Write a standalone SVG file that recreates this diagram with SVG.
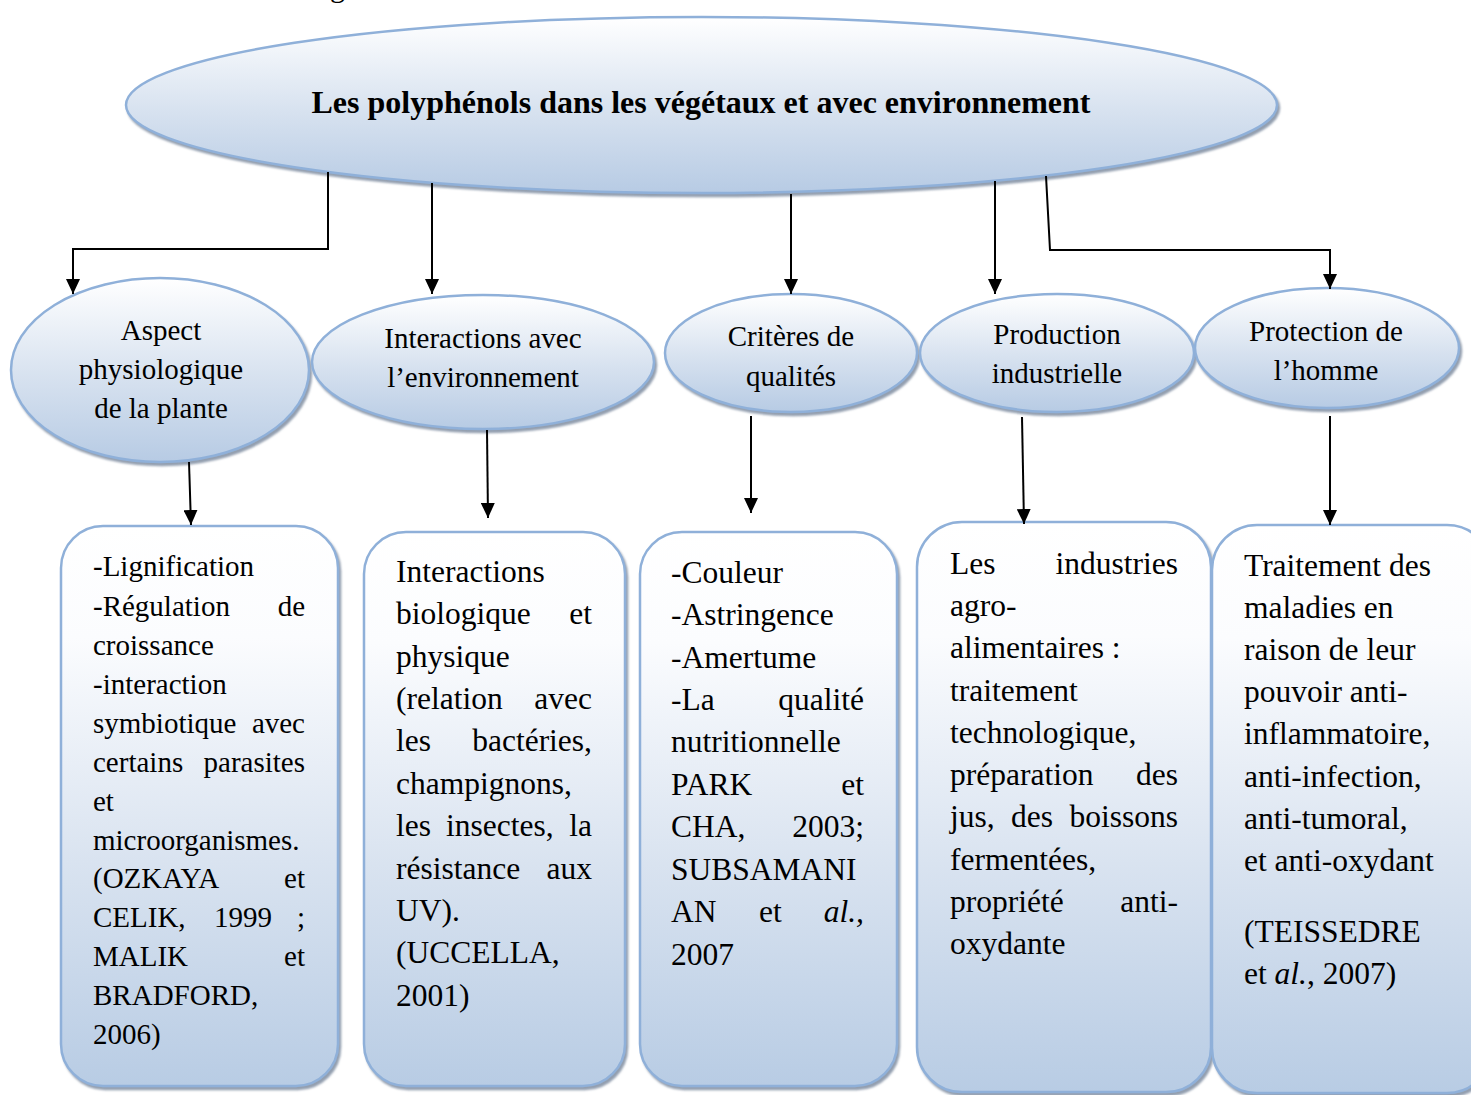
<svg xmlns="http://www.w3.org/2000/svg" width="1471" height="1095" viewBox="0 0 1471 1095">
  <defs>
    <linearGradient id="gEll" x1="0" y1="0" x2="0" y2="1">
      <stop offset="0" stop-color="#ffffff"/>
      <stop offset="0.55" stop-color="#d6e1ef"/>
      <stop offset="1" stop-color="#b7cbe4"/>
    </linearGradient>
    <linearGradient id="gBox" x1="0" y1="0" x2="0" y2="1">
      <stop offset="0" stop-color="#ffffff"/>
      <stop offset="0.2" stop-color="#fbfcfe"/>
      <stop offset="0.6" stop-color="#d9e3f0"/>
      <stop offset="1" stop-color="#b8cce4"/>
    </linearGradient>
    <filter id="shadow" x="-5%" y="-5%" width="112%" height="115%">
      <feDropShadow dx="2" dy="3" stdDeviation="1.3" flood-color="#6e7f94" flood-opacity="0.75"/>
    </filter>
    <marker id="arrow" viewBox="0 0 15 14" refX="15" refY="7" markerWidth="15" markerHeight="14" markerUnits="userSpaceOnUse" orient="auto">
      <path d="M0,0 L15,7 L0,14 z" fill="#000"/>
    </marker>
    <style>
      .shape { fill: url(#gEll); stroke: #8fb0d9; stroke-width: 2.5; filter: url(#shadow); }
      .box { fill: url(#gBox); stroke: #8fb0d9; stroke-width: 2.5; filter: url(#shadow); }
      .conn { fill: none; stroke: #000; stroke-width: 2; marker-end: url(#arrow); }
      text { font-family: "Liberation Serif", "Times New Roman", serif; fill: #000; }
      .title { font-size: 32px; font-weight: bold; text-anchor: middle; }
      .lbl { font-size: 29px; text-anchor: middle; }
      .t1 { font-size: 29px; }
      .t2 { font-size: 31.5px; }
      .r { text-anchor: end; }
      .it { font-style: italic; }
    </style>
  </defs>

  <!-- caption fragment at the top edge -->
  <text x="330" y="-3.5" style="font-size:30px">g</text>

  <!-- root -->
  <g id="root">
    <ellipse class="shape" cx="701.5" cy="105" rx="575.5" ry="88"/>
    <text class="title" x="701" y="113">Les polyphénols dans les végétaux et avec environnement</text>
  </g>

  <!-- second level -->
  <g id="aspect">
    <ellipse class="shape" cx="160" cy="370" rx="149" ry="92"/>
    <text class="lbl" x="161" y="340">Aspect</text>
    <text class="lbl" x="161" y="379">physiologique</text>
    <text class="lbl" x="161" y="418">de la plante</text>
  </g>
  <g id="interactions">
    <ellipse class="shape" cx="483" cy="362" rx="171" ry="67"/>
    <text class="lbl" x="483" y="348">Interactions avec</text>
    <text class="lbl" x="483" y="387">l’environnement</text>
  </g>
  <g id="criteres">
    <ellipse class="shape" cx="791" cy="353" rx="126" ry="59"/>
    <text class="lbl" x="791" y="346">Critères de</text>
    <text class="lbl" x="791" y="386">qualités</text>
  </g>
  <g id="production">
    <ellipse class="shape" cx="1057" cy="353" rx="137" ry="59"/>
    <text class="lbl" x="1057" y="344">Production</text>
    <text class="lbl" x="1057" y="383">industrielle</text>
  </g>
  <g id="protection">
    <ellipse class="shape" cx="1327" cy="348" rx="132" ry="60"/>
    <text class="lbl" x="1326" y="341">Protection de</text>
    <text class="lbl" x="1326" y="380">l’homme</text>
  </g>

  <!-- detail boxes -->
  <g id="box-aspect">
    <rect class="box" x="61" y="526" width="277" height="560" rx="42" ry="42"/>
    <text class="t1" x="93" y="576">-Lignification</text>
    <text class="t1" x="93" y="616">-Régulation</text><text class="t1 r" x="305" y="616">de</text>
    <text class="t1" x="93" y="655">croissance</text>
    <text class="t1" x="93" y="694">-interaction</text>
    <text class="t1" x="93" y="733">symbiotique</text><text class="t1 r" x="305" y="733">avec</text>
    <text class="t1" x="93" y="772">certains</text><text class="t1 r" x="305" y="772">parasites</text>
    <text class="t1" x="93" y="811">et</text>
    <text class="t1" x="93" y="850">microorganismes.</text>
    <text class="t1" x="93" y="888">(OZKAYA</text><text class="t1 r" x="305" y="888">et</text>
    <text class="t1" x="93" y="927">CELIK,</text><text class="t1" x="214" y="927">1999</text><text class="t1 r" x="305" y="927">;</text>
    <text class="t1" x="93" y="966">MALIK</text><text class="t1 r" x="305" y="966">et</text>
    <text class="t1" x="93" y="1005">BRADFORD,</text>
    <text class="t1" x="93" y="1044">2006)</text>
  </g>
  <g id="box-interactions">
    <rect class="box" x="364" y="532" width="261" height="554" rx="42" ry="42"/>
    <text class="t2" x="396" y="582">Interactions</text>
    <text class="t2" x="396" y="624">biologique</text><text class="t2 r" x="592" y="624">et</text>
    <text class="t2" x="396" y="667">physique</text>
    <text class="t2" x="396" y="709">(relation</text><text class="t2 r" x="592" y="709">avec</text>
    <text class="t2" x="396" y="751">les</text><text class="t2 r" x="592" y="751">bactéries,</text>
    <text class="t2" x="396" y="794">champignons,</text>
    <text class="t2" x="396" y="836">les</text><text class="t2" x="446" y="836">insectes,</text><text class="t2 r" x="592" y="836">la</text>
    <text class="t2" x="396" y="879">résistance</text><text class="t2 r" x="592" y="879">aux</text>
    <text class="t2" x="396" y="921">UV).</text>
    <text class="t2" x="396" y="963">(UCCELLA,</text>
    <text class="t2" x="396" y="1006">2001)</text>
  </g>
  <g id="box-criteres">
    <rect class="box" x="640" y="532" width="257" height="554" rx="42" ry="42"/>
    <text class="t2" x="671" y="583">-Couleur</text>
    <text class="t2" x="671" y="625">-Astringence</text>
    <text class="t2" x="671" y="668">-Amertume</text>
    <text class="t2" x="671" y="710">-La</text><text class="t2 r" x="864" y="710">qualité</text>
    <text class="t2" x="671" y="752">nutritionnelle</text>
    <text class="t2" x="671" y="795">PARK</text><text class="t2 r" x="864" y="795">et</text>
    <text class="t2" x="671" y="837">CHA,</text><text class="t2 r" x="864" y="837">2003;</text>
    <text class="t2" x="671" y="880">SUBSAMANI</text>
    <text class="t2" x="671" y="922">AN</text><text class="t2" x="759" y="922">et</text><text class="t2 r it" x="864" y="922">al.,</text>
    <text class="t2" x="671" y="965">2007</text>
  </g>
  <g id="box-production">
    <rect class="box" x="917" y="522" width="294" height="570" rx="45" ry="45"/>
    <text class="t2" x="950" y="574">Les</text><text class="t2 r" x="1178" y="574">industries</text>
    <text class="t2" x="950" y="616">agro-</text>
    <text class="t2" x="950" y="658">alimentaires :</text>
    <text class="t2" x="950" y="701">traitement</text>
    <text class="t2" x="950" y="743">technologique,</text>
    <text class="t2" x="950" y="785">préparation</text><text class="t2 r" x="1178" y="785">des</text>
    <text class="t2" x="950" y="827">jus,</text><text class="t2" x="1011" y="827">des</text><text class="t2 r" x="1178" y="827">boissons</text>
    <text class="t2" x="950" y="870">fermentées,</text>
    <text class="t2" x="950" y="912">propriété</text><text class="t2 r" x="1178" y="912">anti-</text>
    <text class="t2" x="950" y="954">oxydante</text>
  </g>
  <g id="box-protection">
    <rect class="box" x="1212" y="525" width="280" height="568" rx="45" ry="45"/>
    <text class="t2" x="1244" y="576">Traitement des</text>
    <text class="t2" x="1244" y="618">maladies en</text>
    <text class="t2" x="1244" y="660">raison de leur</text>
    <text class="t2" x="1244" y="702">pouvoir anti-</text>
    <text class="t2" x="1244" y="744">inflammatoire,</text>
    <text class="t2" x="1244" y="787">anti-infection,</text>
    <text class="t2" x="1244" y="829">anti-tumoral,</text>
    <text class="t2" x="1244" y="871">et anti-oxydant</text>
    <text class="t2" x="1244" y="942">(TEISSEDRE</text>
    <text class="t2" x="1244" y="984">et <tspan class="it">al.</tspan>, 2007)</text>
  </g>

  <!-- connectors -->
  <g id="connectors">
    <polyline class="conn" points="328,172 328,249 73,249 73,294"/>
    <line class="conn" x1="432" y1="183" x2="432" y2="294"/>
    <line class="conn" x1="791" y1="194" x2="791" y2="294"/>
    <line class="conn" x1="995" y1="181" x2="995" y2="294"/>
    <polyline class="conn" points="1046,176 1050,250 1330,250 1330,289"/>
    <line class="conn" x1="189" y1="462" x2="191" y2="525"/>
    <line class="conn" x1="487" y1="430" x2="488" y2="518"/>
    <line class="conn" x1="751" y1="416" x2="751" y2="513"/>
    <line class="conn" x1="1022" y1="417" x2="1024" y2="524"/>
    <line class="conn" x1="1330" y1="416" x2="1330" y2="525"/>
  </g>
</svg>
